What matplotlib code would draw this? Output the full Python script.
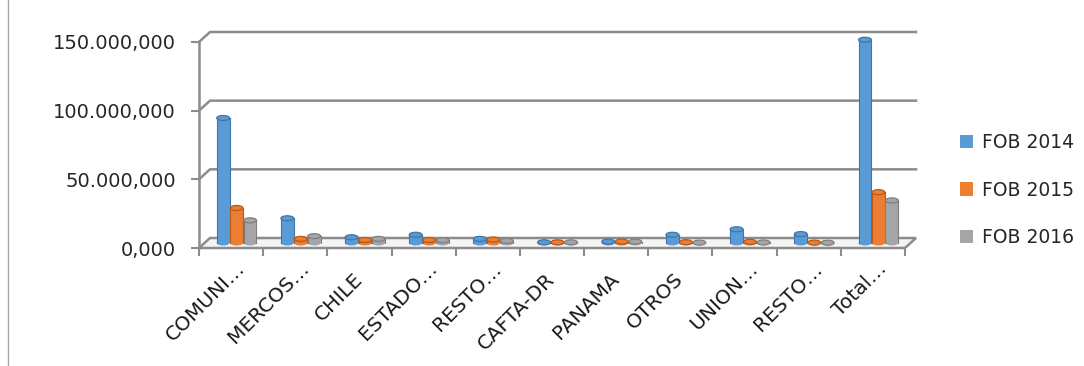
import numpy as np
import matplotlib
matplotlib.use('Agg')
from matplotlib import pyplot as plt
from matplotlib import transforms
from matplotlib.patches import Ellipse, Polygon, Patch
from matplotlib.lines import Line2D

categories = ['COMUNI…', 'MERCOS…', 'CHILE', 'ESTADO…', 'RESTO…', 'CAFTA-DR',
              'PANAMA', 'OTROS', 'UNION…', 'RESTO…', 'Total…']
fob_2014 = [91.0e6, 18.0e6, 4.2e6, 6.0e6, 3.0e6, 0.5e6, 1.0e6, 6.0e6, 10.0e6, 6.5e6, 148.0e6]
fob_2015 = [25.5e6, 3.0e6, 2.2e6, 2.2e6, 2.5e6, 0.5e6, 1.0e6, 0.6e6, 0.8e6, 0.3e6, 37.0e6]
fob_2016 = [16.5e6, 5.0e6, 3.0e6, 2.0e6, 1.5e6, 0.5e6, 1.0e6, 0.3e6, 0.4e6, 0.2e6, 31.0e6]
series_names = ['FOB 2014', 'FOB 2015', 'FOB 2016']
y_ticks = [0, 50e6, 100e6, 150e6]
y_labels = ['0,000', '50.000,000', '100.000,000', '150.000,000']

colors = ['#5B9BD5', '#ED7D31', '#A5A5A5']
edges = ['#3F76A8', '#B35A1F', '#7F7F7F']
grid_col = '#8C8C8C'

W, H = 1084, 366
fig = plt.figure(figsize=(W / 100, H / 100), dpi=100)
fig.patch.set_facecolor('white')

# front plane of the pseudo-3d plot area, in pixels
x0, x1, ytop, ybot = 199, 905, 42, 248
ax = fig.add_axes([x0 / W, (H - ybot) / H, (x1 - x0) / W, (ybot - ytop) / H])
ax.set_xlim(-0.5, len(categories) - 0.5)
ax.set_ylim(0, 150e6)
ax_w, ax_h = x1 - x0, ybot - ytop

# depth of the back wall in pixels
dx_px, dy_px = 11, 10
dxa = dx_px / ax_w
dyd = dy_px * 150e6 / ax_h
blend = transforms.blended_transform_factory(ax.transAxes, ax.transData)

for v in y_ticks:
	# back wall gridline + diagonal on side wall
	if v > 0:
		ax.plot([0, dxa, 1 + dxa], [v, v + dyd, v + dyd], color=grid_col, lw=1.8,
				transform=blend, clip_on=False, zorder=1)

# floor
floor = Polygon([(0, 0), (1, 0), (1 + dxa, dyd), (dxa, dyd)], closed=True,
				facecolor='#F4F4F4', edgecolor=grid_col, lw=1.8, transform=blend,
				clip_on=False, zorder=1)
ax.add_patch(floor)

# bars at half depth
mid = ax.transData + transforms.ScaledTranslation(dx_px / 200, dy_px / 200, fig.dpi_scale_trans)
x = np.arange(len(categories))
bw = 0.21
cap_h = 5 * 150e6 / ax_h
for i, vals in enumerate([fob_2014, fob_2015, fob_2016]):
	xs = x + (i - 1) * bw
	bars = ax.bar(xs, vals, bw * 0.95, color=colors[i], edgecolor='none', zorder=3 + i)
	for b in bars:
		b.set_transform(mid)
		b.set_clip_on(False)
	for xv, v in zip(xs, vals):
		bot = Ellipse((xv, 0), bw * 0.95, cap_h, facecolor=colors[i], edgecolor='none',
					  transform=mid, clip_on=False, zorder=2.9 + i)
		top = Ellipse((xv, v), bw * 0.95, cap_h, facecolor=colors[i], edgecolor=edges[i],
					  lw=0.9, transform=mid, clip_on=False, zorder=3.1 + i)
		ax.add_patch(bot)
		ax.add_patch(top)
		# darker sides of the cylinder
		ax.plot([xv - bw * 0.475, xv - bw * 0.475], [0, v], color=edges[i], lw=0.8,
				transform=mid, clip_on=False, zorder=3.05 + i)
		ax.plot([xv + bw * 0.475, xv + bw * 0.475], [0, v], color=edges[i], lw=0.8,
				transform=mid, clip_on=False, zorder=3.05 + i)

for s in ['top', 'right', 'bottom']:
	ax.spines[s].set_visible(False)
ax.spines['left'].set_color(grid_col)
ax.spines['left'].set_linewidth(1.8)
ax.patch.set_visible(False)

ax.set_yticks(y_ticks)
ax.set_yticklabels(y_labels, fontsize=14, color='#262626')
ax.tick_params(axis='y', length=5.8, width=1.5, color=grid_col, pad=10.8)

# category ticks at the boundaries, labels drawn as rotated text
ax.set_xticks(np.arange(-0.5, len(categories)))
ax.set_xticklabels([])
ax.tick_params(axis='x', length=6, width=1.5, color=grid_col)

fs = 14.5
ell_px = fs * 100 / 72 * 0.75
xlab = transforms.blended_transform_factory(ax.transData, ax.transAxes)
for xi, lab in zip(x, categories):
	# truncated labels stick out by the width of the ellipsis
	shift = ell_px / np.sqrt(2) if lab.endswith('…') else 0
	ax.annotate(lab, xy=(xi, 0), xycoords=xlab, xytext=(4 + shift, -32 + shift),
				textcoords='offset pixels', fontsize=fs, color='#1a1a1a', rotation=45,
				ha='right', va='baseline', rotation_mode='anchor', annotation_clip=False)

# legend
handles = [Patch(facecolor=c, edgecolor='none') for c in colors]
fig.legend(handles, series_names, loc='center left', bbox_to_anchor=(960 / W, (H - 190) / H),
		   frameon=False, fontsize=13.5, handlelength=0.7, handleheight=0.7,
		   handletextpad=0.45, labelspacing=1.5, labelcolor='#262626',
		   borderpad=0, borderaxespad=0)

# chart area border
fig.add_artist(Line2D([8 / W, 8 / W], [0, 1], color='#A6A6A6', lw=1.0, transform=fig.transFigure))

fig.savefig('out.png', dpi=100)
